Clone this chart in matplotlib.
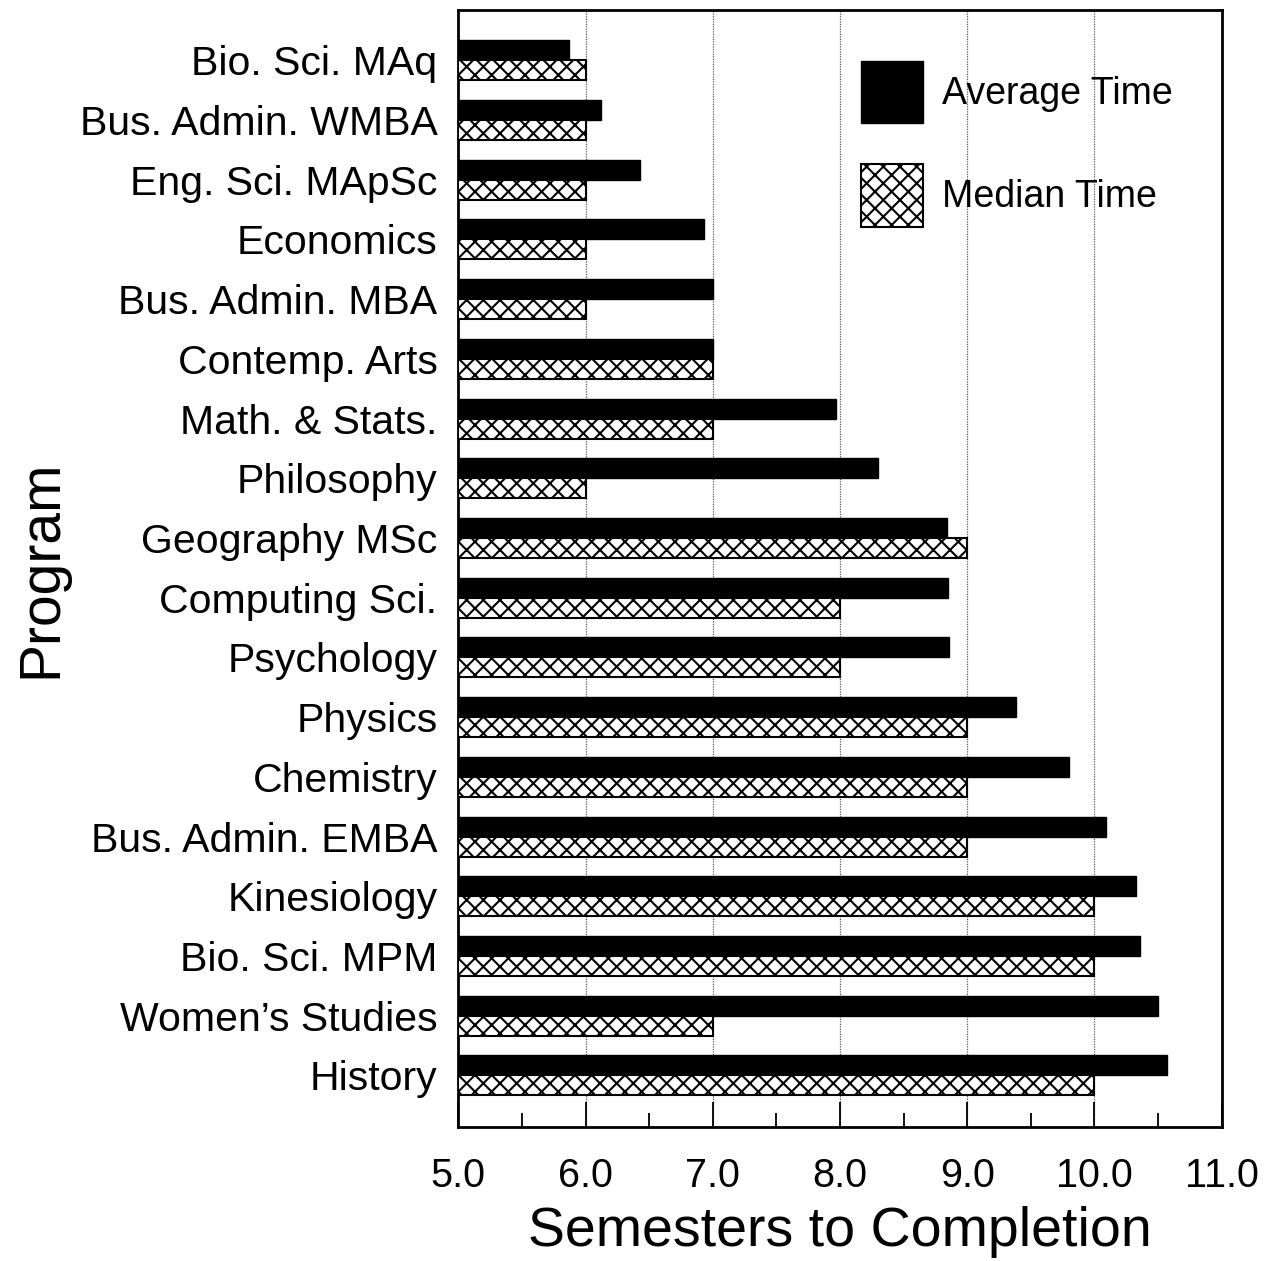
import matplotlib.pyplot as plt
import numpy as np

plt.rcParams['font.family'] = ['Liberation Sans', 'DejaVu Sans']
plt.rcParams['hatch.linewidth'] = 1.5

# programs, top to bottom
programs = ["Bio. Sci. MAq", "Bus. Admin. WMBA", "Eng. Sci. MApSc", "Economics",
            "Bus. Admin. MBA", "Contemp. Arts", "Math. & Stats.", "Philosophy",
            "Geography MSc", "Computing Sci.", "Psychology", "Physics", "Chemistry",
            "Bus. Admin. EMBA", "Kinesiology", "Bio. Sci. MPM", "Women\u2019s Studies",
            "History"]
average_time = [5.87, 6.12, 6.43, 6.93, 7.0, 7.0, 7.97, 8.3, 8.84, 8.85, 8.86,
                9.38, 9.8, 10.09, 10.33, 10.36, 10.5, 10.57]
median_time = [6.0, 6.0, 6.0, 6.0, 6.0, 7.0, 7.0, 6.0, 9.0, 8.0, 8.0,
               9.0, 9.0, 9.0, 10.0, 10.0, 7.0, 10.0]
x_ticks = [5.0, 6.0, 7.0, 8.0, 9.0, 10.0, 11.0]

start = 5.0
y = np.arange(len(programs))
h = 0.335

fig = plt.figure(figsize=(12.66, 12.61), dpi=100)
ax = fig.add_axes([0.362, 0.106, 0.603, 0.886])

ax.barh(y - h/2, np.array(average_time) - start, height=h, left=start,
        color="black", edgecolor="black", linewidth=1, label="Average Time", zorder=3)
ax.barh(y + h/2, np.array(median_time) - start, height=h, left=start,
        color="white", edgecolor="black", hatch="xx", linewidth=1.5,
        label="Median Time", zorder=3)

ax.set_xlim(5, 11)
ax.set_ylim(len(programs) - 1 + 0.87, -0.84)

ax.set_xticks(x_ticks)
ax.set_xticklabels([f"{v:.1f}" for v in x_ticks], fontsize=28.5)
ax.set_xticks(np.arange(5.5, 11, 1.0), minor=True)
ax.tick_params(axis="x", which="major", direction="in", length=18, width=1.3, pad=21)
ax.tick_params(axis="x", which="minor", direction="in", length=10, width=1.3)
ax.set_yticks(y)
ax.set_yticklabels(programs)
ax.tick_params(axis="y", length=0, labelsize=29.5, pad=15)

for xv in x_ticks[1:-1]:
    ax.axvline(xv, color="#555555", linestyle=(0, (1, 1)), linewidth=0.9, zorder=1)

for s in ax.spines.values():
    s.set_linewidth(2)

ax.set_xlabel("Semesters to Completion", fontsize=40, labelpad=8)
ax.set_ylabel("Program", fontsize=41, labelpad=8)

ax.legend(loc="upper right", bbox_to_anchor=(0.98, 0.985), frameon=False,
          fontsize=27, handlelength=1.65, handleheight=2.2, labelspacing=1.08,
          handletextpad=0.5)

plt.savefig("out.png", dpi=100)
